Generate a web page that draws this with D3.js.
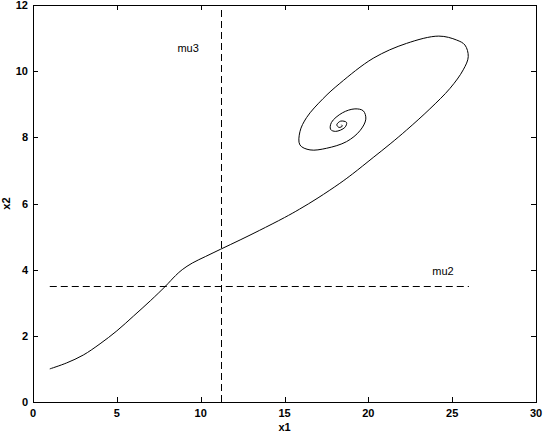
<!DOCTYPE html>
<html><head><meta charset="utf-8">
<script src="https://cdn.jsdelivr.net/npm/d3@7"></script>
<style>body{margin:0;background:#fff}svg{display:block}text{font-family:"Liberation Sans",Arial,sans-serif;fill:#000}</style>
</head><body><svg id="c" width="543" height="432"></svg>
<script>
const xTicks = [0,5,10,15,20,25,30];
const yTicks = [0,2,4,6,8,10,12];
const trajX = [1.0,2.0,3.0,4.0,5.0,6.0,7.0,7.9,8.5,8.9,9.5,10.3,11.2,12.4,13.5,15.0,15.9,17.0,18.3,19.05,20.29,21.3,22.28,23.67,24.87,25.66,25.96,25.76,25.27,24.2,22.28,20.29,18.3,17.3,16.32,15.92,15.92,16.52,17.51,18.7,19.5,19.85,19.7,19.2,18.45,17.8,17.75,18.05,18.6,18.7,18.35,18.12,18.25,18.45,18.4];
const trajY = [1.0,1.18,1.42,1.76,2.15,2.6,3.06,3.5,3.82,4.0,4.2,4.4,4.62,4.91,5.185,5.575,5.83,6.17,6.61,6.89,7.39,7.8,8.22,8.86,9.48,10.04,10.44,10.79,10.94,11.06,10.84,10.39,9.63,9.17,8.6,8.17,7.77,7.62,7.67,7.87,8.2,8.55,8.8,8.86,8.74,8.45,8.24,8.18,8.3,8.45,8.49,8.38,8.3,8.34,8.38];
const mu2Y = 3.5, mu2X = [1.0, 26.0];
const mu3X = 11.2, mu3Y = [0, 12];
const labels = [{t:"mu3", x:9.25, y:10.58}, {t:"mu2", x:24.45, y:3.84}];

const svg = d3.select("#c");
const L=33, R=536, T=5, B=402;
const x = d3.scaleLinear().domain([0,30]).range([L,R]);
const y = d3.scaleLinear().domain([0,12]).range([B,T]);
const fs = 11;

svg.append("rect").attr("x",L+0.5).attr("y",T+0.5).attr("width",R-L).attr("height",B-T)
  .attr("fill","none").attr("stroke","#000").attr("stroke-width",1);

const tl = 5;
const g = svg.append("g");
xTicks.forEach(v=>{
  const px = Math.round(x(v))+0.5;
  g.append("line").attr("x1",px).attr("x2",px).attr("y1",B).attr("y2",B-tl).attr("stroke","#000");
  g.append("line").attr("x1",px).attr("x2",px).attr("y1",T).attr("y2",T+tl).attr("stroke","#000");
  g.append("text").attr("x",x(v)).attr("y",B+15).attr("text-anchor","middle").attr("font-size",fs).attr("font-weight","bold").text(v);
});
yTicks.forEach(v=>{
  const py = Math.round(y(v))+0.5;
  g.append("line").attr("x1",L).attr("x2",L+tl).attr("y1",py).attr("y2",py).attr("stroke","#000");
  g.append("line").attr("x1",R).attr("x2",R-tl).attr("y1",py).attr("y2",py).attr("stroke","#000");
  g.append("text").attr("x",L-5).attr("y",y(v)+4).attr("text-anchor","end").attr("font-size",fs).attr("font-weight","bold").text(v);
});
svg.append("text").attr("x",(L+R)/2).attr("y",431).attr("text-anchor","middle").attr("font-size",fs).attr("font-weight","bold").text("x1");
svg.append("text").attr("transform",`translate(10,${(T+B)/2}) rotate(-90)`).attr("text-anchor","middle").attr("font-size",fs).attr("font-weight","bold").text("x2");

svg.append("line").attr("x1",x(mu2X[0])).attr("x2",x(mu2X[1])).attr("y1",Math.round(y(mu2Y))+0.5).attr("y2",Math.round(y(mu2Y))+0.5)
  .attr("stroke","#000").attr("stroke-dasharray","7,4");
svg.append("line").attr("x1",Math.round(x(mu3X))+0.5).attr("x2",Math.round(x(mu3X))+0.5).attr("y1",y(mu3Y[0])).attr("y2",y(mu3Y[1]))
  .attr("stroke","#000").attr("stroke-dasharray","7,4");

labels.forEach(d=>svg.append("text").attr("x",x(d.x)).attr("y",y(d.y)).attr("text-anchor","middle").attr("font-size",fs).text(d.t));

const pts = trajX.map((v,i)=>[v,trajY[i]]);
svg.append("path").datum(pts)
  .attr("d", d3.line().x(d=>x(d[0])).y(d=>y(d[1])).curve(d3.curveCatmullRom.alpha(0.5)))
  .attr("fill","none").attr("stroke","#000").attr("stroke-width",1);
</script></body></html>
